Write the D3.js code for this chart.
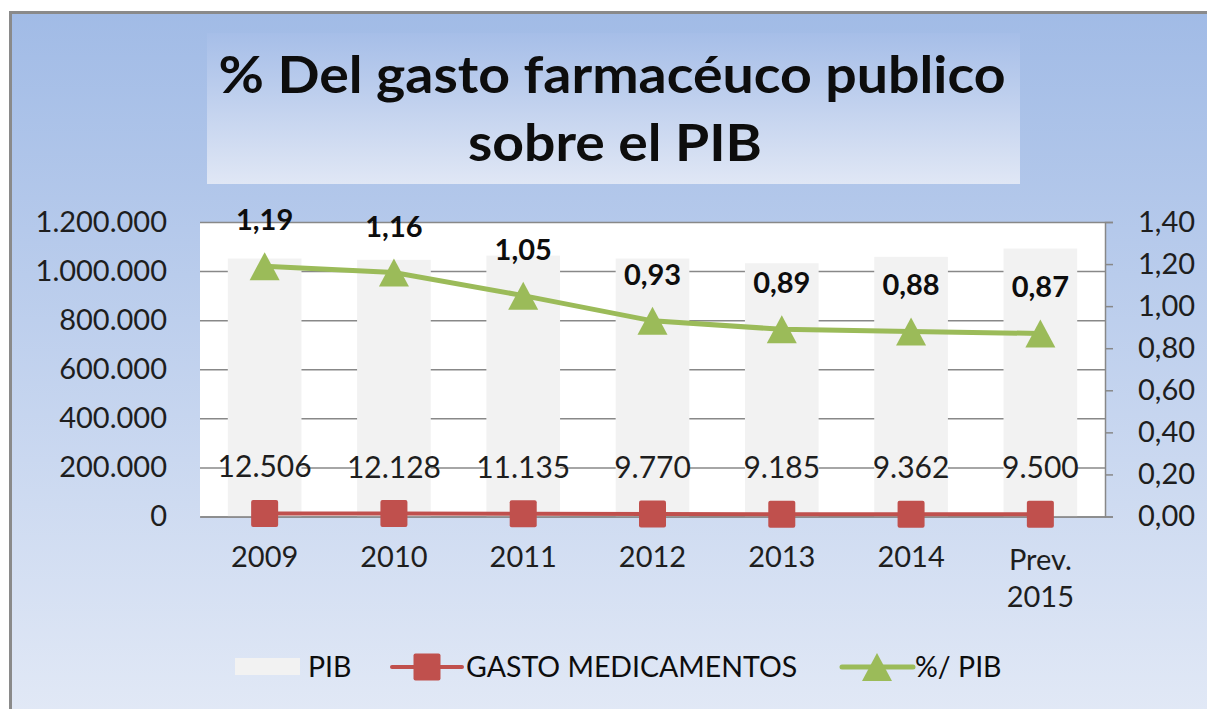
<!DOCTYPE html>
<html>
<head>
<meta charset="utf-8">
<script src="https://cdn.jsdelivr.net/npm/d3@7"></script>
<style>
  html, body { margin: 0; padding: 0; background: #fff; }
  svg { display: block; font-family: Lato, "Open Sans", sans-serif; }
</style>
</head>
<body>
<div id="chart"></div>
<script>
const categories = ["2009", "2010", "2011", "2012", "2013", "2014", "Prev. 2015"];
const pib = [1051000, 1046000, 1063000, 1051000, 1032000, 1058000, 1092000];
const gasto = [12506, 12128, 11135, 9770, 9185, 9362, 9500];
const pctPib = [1.19, 1.16, 1.05, 0.93, 0.89, 0.88, 0.87];
const leftTicks = [0, 200000, 400000, 600000, 800000, 1000000, 1200000];
const rightTicks = [0, 0.2, 0.4, 0.6, 0.8, 1.0, 1.2, 1.4];
const titleLines = ["% Del gasto farmacéuco publico", "sobre el PIB"];
const legendNames = ["PIB", "GASTO MEDICAMENTOS", "%/ PIB"];

const W = 1207, H = 709;
const margin = { top: 222, right: 102, bottom: 192.5, left: 200 };
const width = W - margin.left - margin.right;
const height = H - margin.top - margin.bottom;

const es = d3.formatLocale({ decimal: ",", thousands: ".", grouping: [3], currency: ["", " €"] });
const fmtInt = es.format(",d");
const fmtPct = es.format(",.2f");

const svg = d3.select("#chart").append("svg")
  .attr("width", W)
  .attr("height", H);

const defs = svg.append("defs");
const bg = defs.append("linearGradient").attr("id", "bg").attr("x1", 0).attr("y1", 0).attr("x2", 0).attr("y2", 1);
bg.append("stop").attr("offset", "0%").attr("stop-color", "#a1bbe6");
bg.append("stop").attr("offset", "100%").attr("stop-color", "#e2e9f6");
const tg = defs.append("linearGradient").attr("id", "tg").attr("x1", 0).attr("y1", 0).attr("x2", 0).attr("y2", 1);
tg.append("stop").attr("offset", "0%").attr("stop-color", "#a6bee8");
tg.append("stop").attr("offset", "100%").attr("stop-color", "#e0e7f5");

// chart area with the grey frame on top and left
svg.append("rect")
  .attr("x", 10.5).attr("y", 12.5)
  .attr("width", W).attr("height", H)
  .attr("fill", "url(#bg)")
  .attr("stroke", "#8a8a8a")
  .attr("stroke-width", 3);

// title box
svg.append("rect")
  .attr("x", 207).attr("y", 33)
  .attr("width", 813).attr("height", 151)
  .attr("fill", "url(#tg)");

const titleWidths = [787, 294];
svg.append("g").selectAll("text")
  .data(titleLines)
  .join("text")
  .attr("x", (d, i) => 612 - titleWidths[i] / 2 + (i ? 3 : 0))
  .attr("y", (d, i) => 93 + i * 68)
  .attr("font-size", 51)
  .attr("font-weight", "bold")
  .attr("fill", "#0d0d0d")
  .attr("textLength", (d, i) => titleWidths[i])
  .attr("lengthAdjust", "spacingAndGlyphs")
  .text(d => d);

const g = svg.append("g").attr("transform", "translate(" + margin.left + "," + margin.top + ")");

const x = d3.scaleBand()
  .domain(categories)
  .range([0, width])
  .paddingInner(0.43)
  .paddingOuter(0.215);
const yL = d3.scaleLinear().domain([0, 1200000]).range([height, 0]);
const yR = d3.scaleLinear().domain([0, 1.4]).range([height, 0]);
const cx = d => x(d) + x.bandwidth() / 2;

g.append("rect")
  .attr("width", width).attr("height", height)
  .attr("fill", "#fff");

// gridlines
g.append("g")
  .call(d3.axisLeft(yL).tickValues(leftTicks).tickSize(-width).tickFormat(""))
  .call(a => a.select(".domain").remove())
  .call(a => a.selectAll("line").attr("stroke", "#888").attr("stroke-width", 1.5));

// PIB bars
g.append("g").selectAll("rect")
  .data(categories)
  .join("rect")
  .attr("x", d => x(d))
  .attr("width", x.bandwidth())
  .attr("y", (d, i) => yL(pib[i]))
  .attr("height", (d, i) => height - yL(pib[i]))
  .attr("fill", "#f2f2f2");

// left axis
g.append("g")
  .call(d3.axisLeft(yL).tickValues(leftTicks).tickSize(0).tickPadding(33).tickFormat(fmtInt))
  .call(a => a.select(".domain").remove())
  .call(a => a.selectAll("text").attr("font-size", 29).attr("fill", "#1e1e1e").attr("font-family", "Lato"));

// right axis
g.append("g")
  .attr("transform", "translate(" + width + ",0)")
  .call(d3.axisRight(yR).tickValues(rightTicks).tickSize(8).tickPadding(25).tickFormat(fmtPct))
  .call(a => a.select(".domain").attr("stroke", "#888").attr("stroke-width", 1.5))
  .call(a => a.selectAll("line").attr("stroke", "#888").attr("stroke-width", 1.5))
  .call(a => a.selectAll("text").attr("font-size", 29).attr("fill", "#1e1e1e").attr("font-family", "Lato"));

// bottom axis
const xAxis = g.append("g")
  .attr("transform", "translate(0," + height + ")")
  .call(d3.axisBottom(x).tickSize(0).tickPadding(0))
  .call(a => a.select(".domain").attr("stroke", "#888").attr("stroke-width", 1.5));
xAxis.selectAll("text").each(function (d) {
  const t = d3.select(this).text("").attr("font-size", 29).attr("fill", "#1e1e1e").attr("font-family", "Lato").attr("dy", null);
  const parts = d.split(" ");
  const y0 = parts.length > 1 ? 53.5 : 50.5;
  parts.forEach((p, j) => {
    t.append("tspan").attr("x", 0).attr("y", y0 + j * 37).text(p);
  });
});

// GASTO MEDICAMENTOS line (left axis)
const redLine = d3.line().x(d => cx(d[0])).y(d => yL(d[1]));
g.append("path")
  .datum(categories.map((c, i) => [c, gasto[i]]))
  .attr("d", redLine)
  .attr("fill", "none")
  .attr("stroke", "#c0504d")
  .attr("stroke-width", 4);
g.append("g").selectAll("rect")
  .data(categories)
  .join("rect")
  .attr("x", d => cx(d) - 13.5)
  .attr("y", (d, i) => yL(gasto[i]) - 13.5)
  .attr("width", 27).attr("height", 27)
  .attr("rx", 2)
  .attr("fill", "#c0504d");
g.append("g").selectAll("text")
  .data(categories)
  .join("text")
  .attr("x", d => cx(d))
  .attr("y", (d, i) => yL(gasto[i]) - 36)
  .attr("text-anchor", "middle")
  .attr("font-size", 30)
  .attr("fill", "#1e1e1e")
  .text((d, i) => fmtInt(gasto[i]));

// % PIB line (right axis)
const greenLine = d3.line().x(d => cx(d[0])).y(d => yR(d[1]));
g.append("path")
  .datum(categories.map((c, i) => [c, pctPib[i]]))
  .attr("d", greenLine)
  .attr("fill", "none")
  .attr("stroke", "#9bbb59")
  .attr("stroke-width", 5);
const tri = "M0,-14L15,14L-15,14Z";
g.append("g").selectAll("path")
  .data(categories)
  .join("path")
  .attr("d", tri)
  .attr("transform", (d, i) => "translate(" + cx(d) + "," + yR(pctPib[i]) + ")")
  .attr("fill", "#9bbb59");
g.append("g").selectAll("text")
  .data(categories)
  .join("text")
  .attr("x", d => cx(d))
  .attr("y", (d, i) => yR(pctPib[i]) - 36)
  .attr("text-anchor", "middle")
  .attr("font-size", 29)
  .attr("font-weight", "bold")
  .attr("fill", "#0d0d0d")
  .text((d, i) => fmtPct(pctPib[i]));

// legend
const legend = svg.append("g").attr("transform", "translate(0,667)");
legend.append("rect")
  .attr("x", 235).attr("y", -9)
  .attr("width", 65).attr("height", 17)
  .attr("fill", "#f2f2f2");
legend.append("line")
  .attr("x1", 392).attr("x2", 462)
  .attr("stroke", "#c0504d").attr("stroke-width", 4).attr("stroke-linecap", "round");
legend.append("rect")
  .attr("x", 427 - 13.5).attr("y", -13.5)
  .attr("width", 27).attr("height", 27).attr("rx", 2)
  .attr("fill", "#c0504d");
legend.append("line")
  .attr("x1", 842).attr("x2", 913)
  .attr("stroke", "#9bbb59").attr("stroke-width", 5).attr("stroke-linecap", "round");
legend.append("path")
  .attr("d", tri)
  .attr("transform", "translate(877,0)")
  .attr("fill", "#9bbb59");
legend.selectAll("text")
  .data(legendNames)
  .join("text")
  .attr("x", (d, i) => [308, 466, 915][i])
  .attr("y", 10)
  .attr("font-size", 28.5)
  .attr("fill", "#0d0d0d")
  .text(d => d);
</script>
</body>
</html>
